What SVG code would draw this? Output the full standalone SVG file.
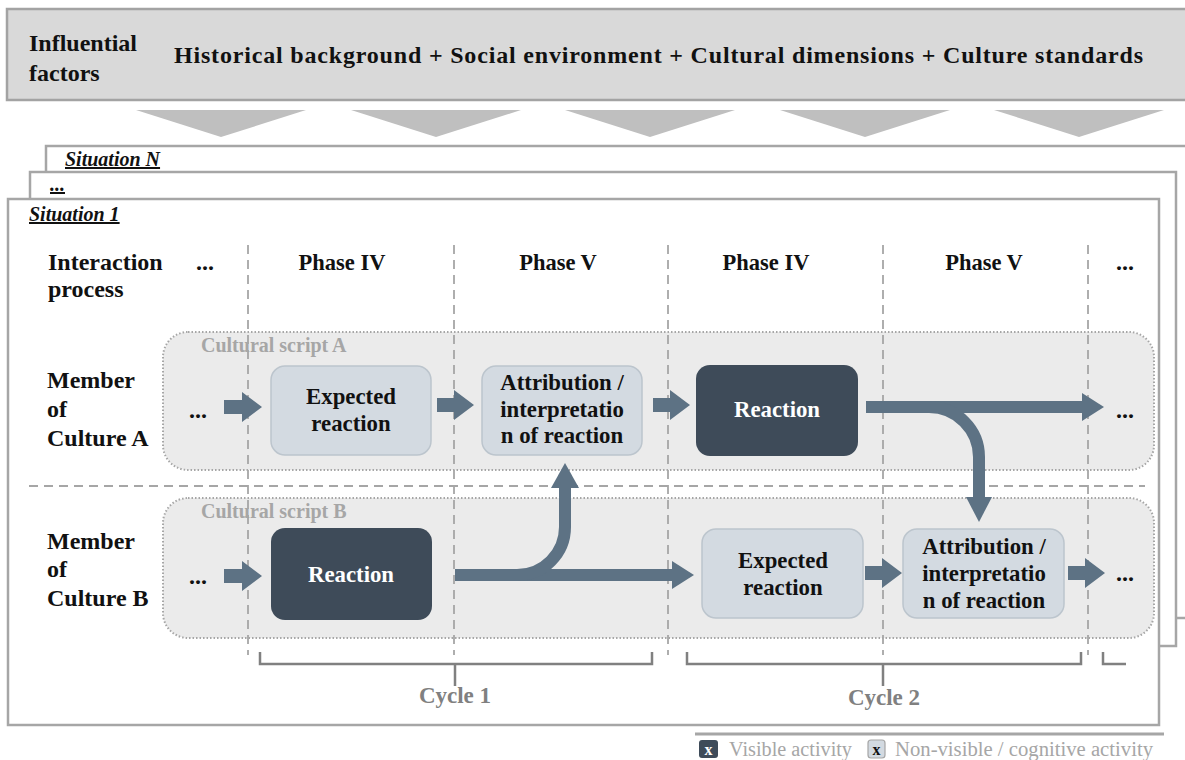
<svg xmlns="http://www.w3.org/2000/svg" width="1185" height="760" viewBox="0 0 1185 760">
<defs>
<style>
text{font-family:"Liberation Serif","Times New Roman",serif;}
.b{font-weight:bold;fill:#111;}
.lbl{font-size:24px;}
.hd{font-size:22.5px;}
.box{font-size:22.8px;text-anchor:middle;}
.frame{fill:#fff;stroke:#a6a6a6;stroke-width:2.5;}
.chev{fill:#bfbfbf;}
.script{fill:#ebebeb;stroke:#a6a6a6;stroke-width:2;stroke-dasharray:1.5 2;}
.script-t{font-size:20px;font-weight:bold;fill:#a6a6a6;}
.dash{stroke:#a6a6a6;stroke-width:1.8;stroke-dasharray:9 6;fill:none;}
.light{fill:#d3dae1;stroke:#bcc5cd;stroke-width:1.5;}
.dark{fill:#3e4b59;}
.arr{fill:#5d7284;}
.conn{fill:none;stroke:#5d7284;stroke-width:12;}
.sit{font-size:20px;font-weight:bold;font-style:italic;fill:#111;text-decoration:underline;}
.brk{fill:none;stroke:#808080;stroke-width:2.5;}
.cyc{font-size:23px;font-weight:bold;fill:#808080;text-anchor:middle;}
.leg{font-size:20px;fill:#a6a6a6;}
.dots{font-size:24px;font-weight:bold;fill:#111;text-anchor:middle;}
</style>
</defs>
<rect width="1185" height="760" fill="#fff"/>

<g id="influential-factors">
<rect x="7" y="9" width="1190" height="91" fill="#d9d9d9" stroke="#a3a3a3" stroke-width="2.5"/>
<text class="b" x="29" y="51" font-size="24">Influential</text>
<text class="b" x="29" y="81" font-size="24">factors</text>
<text class="b" x="174" y="63" font-size="24" textLength="969" lengthAdjust="spacing">Historical background + Social environment + Cultural dimensions + Culture standards</text>
</g>

<g id="influence-chevrons">
<polygon class="chev" points="136,110 306,110 221,137"/>
<polygon class="chev" points="351,110 521,110 436,137"/>
<polygon class="chev" points="565,110 735,110 650,137"/>
<polygon class="chev" points="780,110 950,110 865,137"/>
<polygon class="chev" points="994,110 1164,110 1079,137"/>
</g>

<g id="situation-n">
<rect class="frame" x="46" y="146" width="1150" height="472"/>
<text class="sit" x="65" y="166">Situation N</text>
</g>
<g id="situation-dots">
<rect class="frame" x="30" y="172" width="1146" height="474"/>
<text class="sit" x="50" y="191">...</text>
</g>
<g id="situation-1">
<rect class="frame" x="8" y="199" width="1151" height="526"/>
<text class="sit" x="29" y="221">Situation 1</text>
</g>

<g id="header-row">
<text class="b lbl" x="48" y="270">Interaction</text>
<text class="b lbl" x="48" y="297">process</text>
<text class="dots" x="205" y="270">...</text>
<text class="b hd" x="342" y="270" text-anchor="middle">Phase IV</text>
<text class="b hd" x="558" y="270" text-anchor="middle">Phase V</text>
<text class="b hd" x="766" y="270" text-anchor="middle">Phase IV</text>
<text class="b hd" x="984" y="270" text-anchor="middle">Phase V</text>
<text class="dots" x="1125" y="270">...</text>
</g>

<g id="cultural-script-a">
<rect class="script" x="163" y="332" width="991" height="138" rx="25"/>
<text class="script-t" x="201" y="352">Cultural script A</text>
</g>
<g id="cultural-script-b">
<rect class="script" x="163" y="498" width="991" height="140" rx="25"/>
<text class="script-t" x="201" y="518">Cultural script B</text>
</g>

<g id="grid-lines">
<path class="dash" d="M248 245V655M454 245V655M668 245V655M883 245V655M1088 245V655"/>
<path class="dash" d="M29 486H1145" stroke-width="2" stroke-dasharray="10 6"/>
</g>

<g id="member-a">
<text class="b lbl" x="47" y="388">Member</text>
<text class="b lbl" x="47" y="417">of</text>
<text class="b lbl" x="47" y="446">Culture A</text>
<text class="dots" x="198" y="418">...</text>
<text class="dots" x="1125" y="418">...</text>
</g>
<g id="member-b">
<text class="b lbl" x="47" y="549">Member</text>
<text class="b lbl" x="47" y="577">of</text>
<text class="b lbl" x="47" y="606">Culture B</text>
<text class="dots" x="198" y="584">...</text>
<text class="dots" x="1125" y="581">...</text>
</g>

<g id="a-expected-reaction">
<rect class="light" x="271" y="366" width="160" height="89" rx="14"/>
<text class="b box" x="351" y="404">Expected</text>
<text class="b box" x="351" y="431">reaction</text>
</g>
<g id="a-attribution">
<rect class="light" x="482" y="366" width="160" height="89" rx="14"/>
<text class="b box" x="562" y="390">Attribution /</text>
<text class="b box" x="562" y="417">interpretatio</text>
<text class="b box" x="562" y="443">n of reaction</text>
</g>
<g id="a-reaction">
<rect class="dark" x="696" y="365" width="162" height="91" rx="14"/>
<text class="box" x="777" y="417" font-weight="bold" fill="#fff">Reaction</text>
</g>
<g id="b-reaction">
<rect class="dark" x="271" y="528" width="161" height="92" rx="14"/>
<text class="box" x="351" y="582" font-weight="bold" fill="#fff">Reaction</text>
</g>
<g id="b-expected-reaction">
<rect class="light" x="702" y="529" width="161" height="89" rx="14"/>
<text class="b box" x="783" y="568">Expected</text>
<text class="b box" x="783" y="595">reaction</text>
</g>
<g id="b-attribution">
<rect class="light" x="903" y="529" width="161" height="89" rx="14"/>
<text class="b box" x="984" y="554">Attribution /</text>
<text class="b box" x="984" y="581">interpretatio</text>
<text class="b box" x="984" y="608">n of reaction</text>
</g>

<g id="connectors">
<polygon class="arr" points="224,400 242,400 242,392 262,407 242,422 242,414 224,414"/>
<polygon class="arr" points="437,398 454,398 454,390 474,405 454,420 454,412 437,412"/>
<polygon class="arr" points="653,398 670,398 670,390 690,405 670,420 670,412 653,412"/>
<polygon class="arr" points="224,569 242,569 242,561 262,576 242,591 242,583 224,583"/>
<polygon class="arr" points="865,566 882,566 882,558 902,573 882,588 882,580 865,580"/>
<polygon class="arr" points="1068,566 1085,566 1085,558 1105,573 1085,588 1085,580 1068,580"/>
<path class="conn" d="M866 407H1084"/>
<polygon class="arr" points="1082,393 1104,407 1082,421"/>
<path class="conn" d="M929 407A50 50 0 0 1 979 457V499"/>
<polygon class="arr" points="966,497 992,497 979,522"/>
<path class="conn" d="M455 575H674"/>
<polygon class="arr" points="672,561 694,575 672,589"/>
<path class="conn" d="M517 575A48 48 0 0 0 565 527V486"/>
<polygon class="arr" points="551,488 579,488 565,463"/>
</g>

<g id="cycle-1">
<path class="brk" d="M260 652V664H652V652M455 664V686"/>
<text class="cyc" x="455" y="703">Cycle 1</text>
</g>
<g id="cycle-2">
<path class="brk" d="M687 652V664H1081V652M883 664V686"/>
<text class="cyc" x="884" y="705">Cycle 2</text>
</g>
<g id="cycle-next">
<path class="brk" d="M1103 652V664H1126"/>
</g>

<g id="legend">
<path d="M695 734H1164" stroke="#a6a6a6" stroke-width="3"/>
<rect x="699" y="740" width="19" height="18" rx="3" fill="#3e4b59"/>
<text x="708.5" y="755" font-size="16" font-weight="bold" fill="#fff" text-anchor="middle">x</text>
<text class="leg" x="729" y="756" textLength="123" lengthAdjust="spacingAndGlyphs">Visible activity</text>
<rect x="868" y="740" width="17" height="18" rx="3" fill="#d3dae1" stroke="#a6a6a6" stroke-width="1.2"/>
<text x="876.5" y="755" font-size="16" font-weight="bold" fill="#111" text-anchor="middle">x</text>
<text class="leg" x="895" y="756" textLength="258" lengthAdjust="spacingAndGlyphs">Non-visible / cognitive activity</text>
</g>
</svg>
